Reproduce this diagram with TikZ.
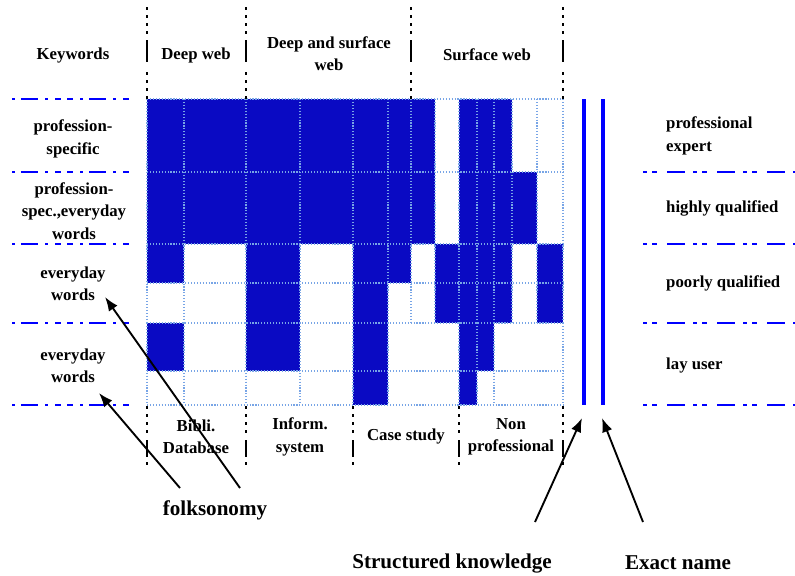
\documentclass[tikz,border=0pt]{standalone}
\usepackage{fontspec}
\setmainfont{Liberation Serif}
\usepackage{xcolor}
\usepackage{tikz}
\usetikzlibrary{arrows.meta}
\definecolor{cellblue}{RGB}{10,10,195}
\definecolor{gridblue}{RGB}{120,165,230}

\begin{document}
\begin{tikzpicture}[x=0.03cm, y=-0.03cm]
\tikzstyle{celltext}=[font=\bfseries\fontsize{14.3pt}{19pt}\selectfont, align=center, inner sep=0pt]
\tikzstyle{bigtext}=[font=\bfseries\fontsize{18pt}{22pt}\selectfont, inner sep=0pt]
\tikzstyle{cellfill}=[fill=cellblue]
\tikzstyle{gridline}=[gridblue, line width=0.9pt, dash pattern=on 1pt off 1.5pt]
\tikzstyle{headsep}=[line width=2pt, dash pattern=on 2.56pt off 4.27pt on 2.56pt off 4.27pt on 2.56pt off 4.27pt on 2.56pt off 5.12pt on 18.78pt off 8.54pt on 2.56pt off 4.27pt on 2.56pt off 4.27pt on 2.56pt off 4.27pt on 2.56pt off 30pt]
\tikzstyle{footsep}=[line width=2pt, dash pattern=on 2.56pt off 4.27pt on 2.56pt off 4.27pt on 2.56pt off 4.27pt on 2.56pt off 5.98pt on 14.51pt off 4.27pt on 2.56pt off 30pt]
\tikzstyle{keyline}=[blue, line width=2.5pt, dash pattern=on 2.56pt off 5.12pt on 14.51pt off 5.98pt on 2.56pt off 5.98pt on 5.12pt off 5.12pt on 5.12pt off 5.98pt]
\tikzstyle{userline}=[blue, line width=2.3pt, dash pattern=on 3.41pt off 4.27pt on 4.27pt off 8.54pt on 15.36pt off 6.83pt]
\tikzstyle{expertbar}=[blue, line width=2.8pt]
\tikzstyle{pointer}=[-{Latex[length=12pt,width=9pt]}, line width=1.6pt]

\useasboundingbox (0,0) rectangle (795,575);

\foreach \xa/\ya/\xb/\yb in {147/99/435/244, 459/99/512/172, 459/172/537/244,
  147/244/184/283, 147/323/184/371, 246/244/300/371, 353/244/388/405,
  388/244/411/283, 435/244/512/323, 537/244/563/323, 459/323/477/405, 477/323/494/371}
  \fill[cellfill] (\xa,\ya) rectangle (\xb,\yb);

\foreach \yy in {99,172,244,283,323,371,405}
  \draw[gridline] (147,\yy) -- (563,\yy);
\foreach \xx in {147,184,246,300,353,388,411,435,459,477,494,512,537,563}
  \draw[gridline] (\xx,99) -- (\xx,323);
\foreach \xx in {147,184,246,300,353,388,459,477,494,563}
  \draw[gridline] (\xx,323) -- (\xx,405);

\foreach \xx in {147,246,411,563}
  \draw[headsep] (\xx,7) -- (\xx,99);
\foreach \xx in {147,246,353,459,563}
  \draw[footsep] (\xx,406) -- (\xx,465);
\foreach \yy in {99,172,244,323,405}
  \draw[keyline] (12,\yy) -- (133,\yy);
\foreach \yy in {172,244,323,405}
  \draw[userline] (643,\yy) -- (795,\yy);
\draw[expertbar] (584,99) -- (584,405);
\draw[expertbar] (603,99) -- (603,405);

\node[celltext] (keywords) at (73,55) {Keywords};
\node[celltext] (deepweb) at (196,55) {Deep web};
\node[celltext] (deepsurf) at (329,54) {Deep and surface\\web};
\node[celltext] (surfweb) at (487,55) {Surface web};

\node[celltext] (profspec) at (73,139) {profession-\\specific};
\node[celltext] (profmix) at (74,211) {profession-\\spec.,everyday\\words};
\node[celltext] (everyA) at (73,284) {everyday\\words};
\node[celltext] (everyB) at (73,366) {everyday\\words};

\node[celltext, anchor=west, align=left] (expert) at (666,136) {professional\\expert};
\node[celltext, anchor=west] (highly) at (666,208) {highly qualified};
\node[celltext, anchor=west] (poorly) at (666,283) {poorly qualified};
\node[celltext, anchor=west] (layuser) at (666,365) {lay user};

\node[celltext] (bibli) at (196,437) {Bibli.\\Database};
\node[celltext] (inform) at (300,437) {Inform.\\system};
\node[celltext] (casestudy) at (406,436) {Case study};
\node[celltext] (nonprof) at (511,437) {Non\\professional};

\node[bigtext] (folk) at (215,510) {folksonomy};
\node[bigtext] (structured) at (452,563) {Structured knowledge};
\node[bigtext] (exact) at (678,563) {Exact name};

\coordinate (folkA) at (180,488);
\coordinate (folkB) at (240,488);
\coordinate (structA) at (535,522);
\coordinate (exactA) at (643,522);
\coordinate (tipB) at (99,393);
\coordinate (tipA) at (105,297);
\coordinate (tipS) at (582,418);
\coordinate (tipE) at (602,418);

\draw[pointer] (folkA) -- (tipB);
\draw[pointer] (folkB) -- (tipA);
\draw[pointer] (structA) -- (tipS);
\draw[pointer] (exactA) -- (tipE);
\end{tikzpicture}
\end{document}
